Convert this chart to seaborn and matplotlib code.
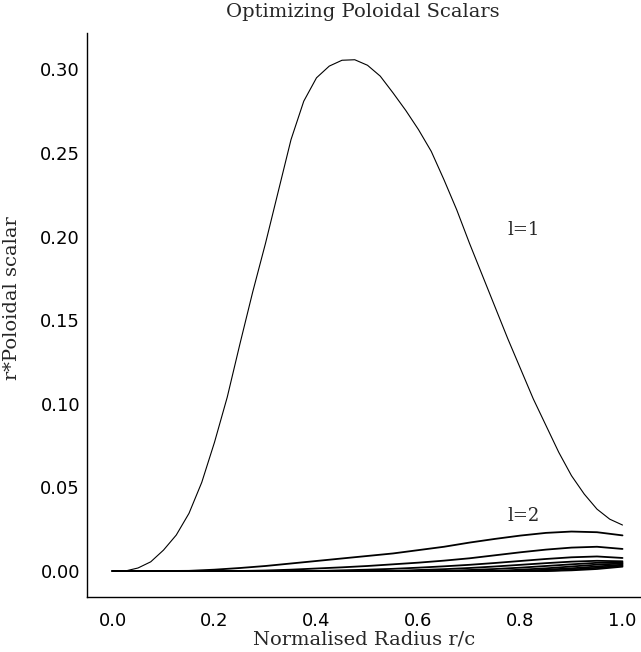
import matplotlib
matplotlib.use("Agg")
import matplotlib.pyplot as plt
import seaborn as sns

# radius grids
r_fine = [i * 0.025 for i in range(41)]
r_coarse = [i * 0.05 for i in range(21)]

# l=1 mode
pol_l1 = [0.0, 0.0, 0.0018, 0.0055, 0.0125, 0.0215, 0.0345, 0.053, 0.077, 0.104,
          0.136, 0.167, 0.196, 0.227, 0.258, 0.281, 0.295, 0.302, 0.3055, 0.3058,
          0.3025, 0.296, 0.286, 0.2755, 0.264, 0.251, 0.234, 0.216, 0.196, 0.177,
          0.158, 0.139, 0.121, 0.103, 0.087, 0.071, 0.057, 0.046, 0.037, 0.031, 0.0275]

# higher modes l=2..10
pol_l2 = [0, 0, 0, 0.0001, 0.0008, 0.0018, 0.003, 0.0045, 0.006, 0.0075, 0.009,
          0.0105, 0.0125, 0.0145, 0.017, 0.0192, 0.0212, 0.0228, 0.0236, 0.0232, 0.0213]
pol_l3 = [0, 0, 0, 0, 0, 0, 0.0003, 0.0008, 0.0015, 0.0022, 0.003,
          0.004, 0.005, 0.0062, 0.0076, 0.0094, 0.0112, 0.0128, 0.014, 0.0145, 0.0132]
pol_l4 = [0, 0, 0, 0, 0, 0, 0, 0, 0, 0.0004, 0.0008,
          0.0013, 0.002, 0.0028, 0.0037, 0.0048, 0.006, 0.0072, 0.0082, 0.0087, 0.0078]
pol_l5 = [0, 0, 0, 0, 0, 0, 0, 0, 0, 0, 0,
          0, 0.0006, 0.0011, 0.0018, 0.0027, 0.0037, 0.0047, 0.0056, 0.0061, 0.0058]
pol_l6 = [0, 0, 0, 0, 0, 0, 0, 0, 0, 0, 0,
          0, 0, 0, 0.0006, 0.0012, 0.002, 0.003, 0.004, 0.0049, 0.005]
pol_l7 = [0, 0, 0, 0, 0, 0, 0, 0, 0, 0, 0,
          0, 0, 0, 0, 0, 0.0008, 0.0016, 0.0027, 0.0038, 0.0045]
pol_l8 = [0, 0, 0, 0, 0, 0, 0, 0, 0, 0, 0,
          0, 0, 0, 0, 0, 0, 0.0008, 0.0016, 0.0027, 0.0038]
pol_l9 = [0, 0, 0, 0, 0, 0, 0, 0, 0, 0, 0,
          0, 0, 0, 0, 0, 0, 0, 0.0009, 0.0019, 0.0032]
pol_l10 = [0, 0, 0, 0, 0, 0, 0, 0, 0, 0, 0,
           0, 0, 0, 0, 0, 0, 0, 0.0004, 0.0012, 0.0026]

higher_modes = [pol_l2, pol_l3, pol_l4, pol_l5, pol_l6, pol_l7, pol_l8, pol_l9, pol_l10]

sns.set_style("white")
serif = "DejaVu Serif"

fig = plt.figure(figsize=(6.41, 6.52), dpi=100)
ax = fig.add_axes([87 / 641, 55 / 652, 561 / 641, 564 / 652])

sns.lineplot(x=r_fine, y=pol_l1, ax=ax, color="black", linewidth=0.8)
for vals in higher_modes:
    sns.lineplot(x=r_coarse, y=vals, ax=ax, color="black", linewidth=1.3)

ax.set_xlim(-0.05, 1.05)
ax.set_ylim(-0.01555, 0.3218)
ax.set_xticks([0.0, 0.2, 0.4, 0.6, 0.8, 1.0])
ax.set_yticks([0.0, 0.05, 0.10, 0.15, 0.20, 0.25, 0.30])
ax.set_xticklabels(["0.0", "0.2", "0.4", "0.6", "0.8", "1.0"])
ax.set_yticklabels(["0.00", "0.05", "0.10", "0.15", "0.20", "0.25", "0.30"])

for side in ["top", "right"]:
    ax.spines[side].set_visible(False)
for side in ["left", "bottom"]:
    ax.spines[side].set_color("black")
    ax.spines[side].set_linewidth(1.0)

ax.tick_params(axis="x", direction="in", length=6, width=0.8, colors="black",
               labelsize=13, pad=11)
ax.tick_params(axis="y", direction="in", length=6, width=0.8, colors="black",
               labelsize=13, pad=5)
for lab in ax.get_xticklabels() + ax.get_yticklabels():
    lab.set_family("DejaVu Sans")

ax.set_xlabel("Normalised Radius r/c", fontsize=14, family=serif)
ax.set_ylabel("r*Poloidal scalar", fontsize=14, family=serif)
ax.xaxis.set_label_coords((364 - 87) / 561, -(630 - 597) / 564)
ax.yaxis.set_label_coords(-(87 - 21) / 561, (597 - 298) / 564)

fig.text(363 / 641, 1 - 12 / 652, "Optimizing Poloidal Scalars", ha="center",
         va="center", fontsize=14, family=serif)

ax.text(0.775, 0.204, "l=1", fontsize=13, family=serif, ha="left", va="center")
ax.text(0.775, 0.033, "l=2", fontsize=13, family=serif, ha="left", va="center")

fig.savefig("out.png", dpi=100, facecolor="white")
